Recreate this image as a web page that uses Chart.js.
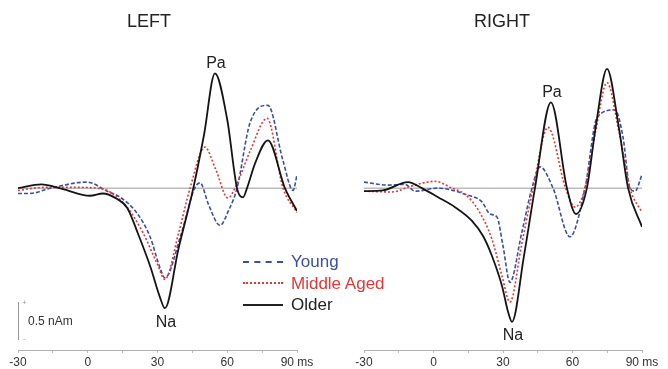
<!DOCTYPE html>
<html>
<head>
<meta charset="utf-8">
<script src="https://cdn.jsdelivr.net/npm/chart.js@4/dist/chart.umd.min.js"></script>
<style>
  body { margin: 0; background: #fff; font-family: "Liberation Sans", Arial, sans-serif; }
  #wrap { position: relative; width: 668px; height: 369px; overflow: hidden; }
  .panel { position: absolute; top: 0; width: 334px; height: 369px; }
  .title { position: absolute; top: 11px; font-size: 18px; color: #222; transform: translateX(-50%); }
  #legend { position: absolute; left: 243px; top: 251px; font-size: 17px; line-height: 21.5px; }
  #legend div { display: flex; align-items: center; }
  #legend span.s { display: inline-block; width: 40px; height: 0; margin-right: 8px; }
</style>
</head>
<body>
<div id="wrap">
  <div class="panel" style="left:0"><canvas id="leftChart" width="334" height="369"></canvas></div>
  <div class="panel" style="left:334px"><canvas id="rightChart" width="334" height="369"></canvas></div>
  <div class="title" style="left:149px">LEFT</div>
  <div class="title" style="left:502px">RIGHT</div>
  <div id="legend">
    <div style="color:#3d4f9f"><span class="s" style="border-top:2px dashed #3d4f9f"></span>Young</div>
    <div style="color:#e0393a"><span class="s" style="border-top:2px dotted #e0393a"></span>Middle Aged</div>
    <div style="color:#222"><span class="s" style="border-top:2px solid #222"></span>Older</div>
  </div>
</div>
<script>
// time (ms) and amplitude (nAm)
const leftOlderMs  = [-30, -20, -11, 1, 6.5, 12.5, 17, 21.5, 27, 31, 33.2, 39, 45.4, 50, 54.7, 60, 64.2, 66.8, 68.5, 72, 77.5, 84.8, 90];
const leftOlderVal = [0, 0.05, -0.01, -0.1, -0.07, -0.14, -0.26, -0.59, -1.04, -1.43, -1.58, -0.8, 0, 0.7, 1.51, 0.9, 0, -0.12, 0, 0.33, 0.63, 0, -0.3];

const leftYoungMs  = [-30, -25, -16, -0.3, 8.3, 14, 21.2, 26.8, 31.1, 33.2, 40, 46, 48.3, 52, 56.9, 60.5, 64.2, 69.8, 77.5, 83.9, 88.3, 90];
const leftYoungVal = [-0.07, -0.07, 0, 0.08, -0.04, -0.12, -0.33, -0.64, -1.05, -1.18, -0.62, 0, 0.07, -0.22, -0.49, -0.3, 0, 0.86, 1.09, 0.37, -0.03, 0.17];

const leftMiddleMs  = [-30, -19, -4.6, 4, 9.6, 16.9, 23.8, 29.8, 33.2, 39, 44, 50.4, 55, 60.3, 63.3, 70, 77.1, 84, 90];
const leftMiddleVal = [-0.03, 0.01, 0.01, 0, -0.05, -0.25, -0.59, -0.99, -1.2, -0.6, 0, 0.54, 0.25, -0.13, 0, 0.5, 0.92, 0, -0.32];

const rightOlderMs  = [-30, -22, -11, -5, 2, 9.3, 16.6, 21.4, 25.2, 29.6, 32.2, 33.9, 39, 43.8, 50.7, 57.6, 61.5, 66.2, 70, 74.9, 80, 84, 90];
const rightOlderVal = [-0.04, -0.03, 0.08, 0, -0.12, -0.25, -0.43, -0.63, -0.89, -1.29, -1.63, -1.76, -0.9, 0, 1.13, 0, -0.34, 0, 0.8, 1.57, 0.8, 0, -0.51];

const rightYoungMs  = [-30, -19.6, -12.3, -8, 1.9, 13.6, 20.9, 24.4, 27.4, 30, 33, 38, 42.5, 46, 51.6, 58.9, 65.4, 70.6, 78.3, 81.8, 84.8, 87, 90];
const rightYoungVal = [0.08, 0.04, 0.05, -0.04, 0, -0.08, -0.18, -0.34, -0.38, -0.76, -1.24, -0.6, 0, 0.28, 0, -0.64, 0, 0.93, 1.03, 0.67, 0, -0.04, 0.18];

const rightMiddleMs  = [-30, -18, -9.3, 0.6, 8, 13.6, 19.2, 25.2, 29.6, 33, 38, 43, 49.4, 57, 61.1, 65.4, 70, 74.9, 80, 84.8, 90];
const rightMiddleVal = [-0.04, -0.05, 0.03, 0.09, 0, -0.08, -0.28, -0.67, -1.16, -1.5, -0.75, 0, 0.8, 0, -0.25, 0, 0.75, 1.39, 0.75, 0, -0.32];

const baselineMs = [-30, 90];
const baselineVal = [0, 0];

const xTicks = [-30, 0, 30, 60, 90];
const scaleBar = [-2.0, -1.5]; // 0.5 nAm
const paWindow = [40, 60];     // Pa is the first positive peak after Na

const pts = (xs, ys) => xs.map((x, i) => ({ x: x, y: ys[i] }));

// Pa / Na labels on the Older curve
const peakLabels = {
  id: 'peakLabels',
  afterDatasetsDraw(chart) {
    const d = chart.data.datasets[0].data;
    let hi = null, lo = d[0];
    d.forEach(p => {
      if (p.x >= paWindow[0] && p.x <= paWindow[1] && (!hi || p.y > hi.y)) hi = p;
      if (p.y < lo.y) lo = p;
    });
    const xs = chart.scales.x, ys = chart.scales.y, ctx = chart.ctx;
    ctx.save();
    ctx.font = '16px "Liberation Sans", Arial, sans-serif';
    ctx.fillStyle = '#222';
    ctx.textAlign = 'center';
    ctx.textBaseline = 'middle';
    ctx.fillText('Pa', xs.getPixelForValue(hi.x) + 1, ys.getPixelForValue(hi.y) - 10);
    ctx.fillText('Na', xs.getPixelForValue(lo.x) + 1, ys.getPixelForValue(lo.y) + 14);
    ctx.restore();
  }
};

// amplitude scale bar, left panel only
const scaleBarPlugin = {
  id: 'scaleBar',
  afterDraw(chart) {
    if (chart.canvas.id !== 'leftChart') return;
    const ys = chart.scales.y, ctx = chart.ctx;
    const x = chart.chartArea.left;
    const y0 = ys.getPixelForValue(scaleBar[0]), y1 = ys.getPixelForValue(scaleBar[1]);
    ctx.save();
    ctx.strokeStyle = '#999';
    ctx.lineWidth = 1;
    ctx.beginPath();
    ctx.moveTo(x + 0.5, y0); ctx.lineTo(x + 0.5, y1);
    ctx.stroke();
    ctx.fillStyle = '#999';
    ctx.font = '8px "Liberation Sans", Arial, sans-serif';
    ctx.textAlign = 'left';
    ctx.textBaseline = 'middle';
    ctx.fillText('+', x + 4, y1 + 1);
    ctx.fillText('-', x + 5, y0 - 1);
    ctx.fillStyle = '#333';
    ctx.font = '12px "Liberation Sans", Arial, sans-serif';
    ctx.fillText('0.5 nAm', x + 10, (y0 + y1) / 2 + 1);
    ctx.restore();
  }
};

function makeChart(id, older, middle, young, pad) {
  return new Chart(document.getElementById(id), {
    type: 'line',
    data: {
      datasets: [
        { label: 'Older', data: older, borderColor: '#151515', borderWidth: 1.8 },
        { label: 'Middle Aged', data: middle, borderColor: '#e0393a', borderWidth: 1.6, borderDash: [2, 2] },
        { label: 'Young', data: young, borderColor: '#3d4f9f', borderWidth: 1.6, borderDash: [4, 2] },
        { label: 'base', data: pts(baselineMs, baselineVal), borderColor: '#9a9a9a', borderWidth: 1, cubicInterpolationMode: 'default', tension: 0 }
      ]
    },
    options: {
      responsive: false,
      animation: false,
      devicePixelRatio: 1,
      layout: { padding: pad },
      elements: {
        point: { radius: 0 },
        line: { cubicInterpolationMode: 'monotone', fill: false }
      },
      plugins: { legend: { display: false }, tooltip: { enabled: false } },
      scales: {
        x: {
          type: 'linear', min: -30, max: 90,
          afterFit: s => { s.height = 19; },
          ticks: {
            stepSize: 15, autoSkip: false, maxRotation: 0, padding: 2,
            color: '#333', font: { size: 12, family: '"Liberation Sans", Arial, sans-serif' },
            callback: v => xTicks.includes(v) ? (v === 90 ? '90 ms' : String(v)) : ''
          },
          grid: { drawOnChartArea: false, drawTicks: true, tickLength: 3, color: '#bbb' },
          border: { display: true, color: '#b0b0b0', width: 1 }
        },
        y: { display: false, min: -2.13, max: 1.95 }
      }
    },
    plugins: [peakLabels, scaleBarPlugin]
  });
}

makeChart('leftChart', pts(leftOlderMs, leftOlderVal), pts(leftMiddleMs, leftMiddleVal), pts(leftYoungMs, leftYoungVal),
  { left: 18, right: 37, top: 40, bottom: 0 });
makeChart('rightChart', pts(rightOlderMs, rightOlderVal), pts(rightMiddleMs, rightMiddleVal), pts(rightYoungMs, rightYoungVal),
  { left: 30, right: 26, top: 40, bottom: 0 });
</script>
</body>
</html>
